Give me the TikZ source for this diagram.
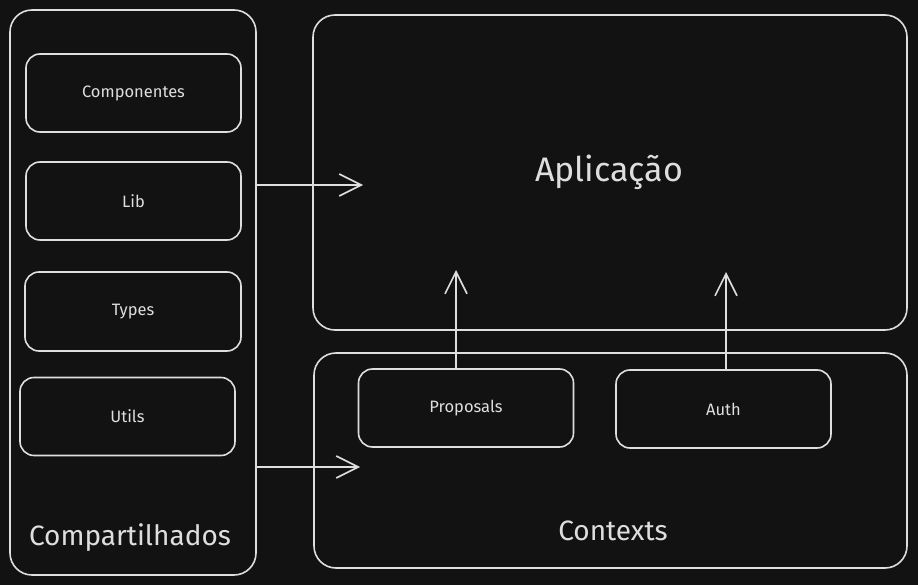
\documentclass[tikz,border=0pt]{standalone}
\usepackage{fontspec}
\setmainfont{Fira Sans}
\usetikzlibrary{arrows.meta}
\definecolor{bg}{HTML}{121212}
\definecolor{ink}{HTML}{DEDEDE}

\begin{document}
\begin{tikzpicture}[
            x=1pt, y=-1pt,
            >={Straight Barb[length=22pt,width=22pt,line width=1.6pt]},
            line width=1.6pt, draw=ink,
            box/.style={draw=ink, rounded corners=14pt, inner sep=0pt},
            item/.style={box, minimum width=215pt, minimum height=78pt,
                         text=ink, font=\fontsize{16.5}{18}\selectfont},
            title/.style={text=ink, font=\fontsize{28}{30}\selectfont},
    ]
    \fill[bg] (0,0) rectangle (918,585);
    \useasboundingbox (0,0) rectangle (918,585);

    % shared column
    \node[box, rounded corners=22pt, minimum width=246pt, minimum height=565pt] (shared) at (133,292.5) {};
    \node[item] (comp)  at (133.5,93) {Componentes};
    \node[item] (lib)   at (133.5,201) {Lib};
    \node[item, minimum width=216pt, minimum height=79pt] (types) at (133,311.5) {Types};
    \node[item] (utils) at (127.5,416.5) {Utils};
    \node[title] (sharedlbl) at (130,538) {Compartilhados};

    % application
    \node[box, rounded corners=22pt, minimum width=594pt, minimum height=315pt] (app) at (610,172.5) {};
    \node[title, font=\fontsize{34}{36}\selectfont] (applbl) at (609,172) {Aplicação};

    % contexts
    \node[box, rounded corners=22pt, minimum width=593pt, minimum height=215pt] (ctx) at (610.5,460.5) {};
    \node[item] (prop) at (466,408) {Proposals};
    \node[item] (auth) at (723.5,409) {Auth};
    \node[title] (ctxlbl) at (613,531) {Contexts};

    % connectors
    \coordinate (toapp) at (363,185);
    \coordinate (toctx) at (360,467);
    \coordinate (propup) at (456,270);
    \coordinate (authup) at (726,272);
    \draw[->, ink] (shared.east |- toapp) -- (toapp);
    \draw[->, ink] (shared.east |- toctx) -- (toctx);
    \draw[->, ink] (prop.north -| propup) -- (propup);
    \draw[->, ink] (auth.north -| authup) -- (authup);
\end{tikzpicture}
\end{document}
